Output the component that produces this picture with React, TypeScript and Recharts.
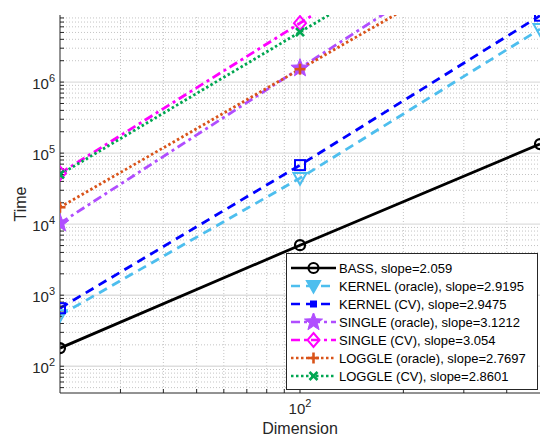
import React from "react";
import { Legend, Line, LineChart, ReferenceLine, XAxis, YAxis } from "recharts";

const dims = [20, 100, 500];
const bass = [180, 5060, 134000];
const kernelOracle = [522, 44500, 5570000];
const kernelCv = [656, 67800, 8600000];
const singleOracle = [10300, 1570000, 240000000];
const singleCv = [52000, 6760000, 920000000];
const loggleOracle = [17300, 1520000, 130000000];
const loggleCv = [50000, 5060000, 500000000];

const xMajor = [100];
const xMinor = [30, 40, 50, 60, 70, 80, 90, 200, 300, 400];
const yMajor = [100, 1000, 10000, 100000, 1000000];
const yMinor = [
  50, 60, 70, 80, 90,
  200, 300, 400, 500, 600, 700, 800, 900,
  2000, 3000, 4000, 5000, 6000, 7000, 8000, 9000,
  20000, 30000, 40000, 50000, 60000, 70000, 80000, 90000,
  200000, 300000, 400000, 500000, 600000, 700000, 800000, 900000,
  2000000, 3000000, 4000000, 5000000, 6000000, 7000000, 8000000,
];
const xDomain = [20, 500];
const yDomain = [42, 8800000];

const series = [
  { key: "bass", name: "BASS, slope=2.059", values: bass, color: "#000000", dash: undefined, shape: "circle" },
  { key: "kernelOracle", name: "KERNEL (oracle), slope=2.9195", values: kernelOracle, color: "#4DBEEE", dash: "9 6", shape: "triangle" },
  { key: "kernelCv", name: "KERNEL (CV), slope=2.9475", values: kernelCv, color: "#0000FF", dash: "9 6", shape: "square" },
  { key: "singleOracle", name: "SINGLE (oracle), slope=3.1212", values: singleOracle, color: "#B04DFF", dash: "9 4 3 4", shape: "star" },
  { key: "singleCv", name: "SINGLE (CV), slope=3.054", values: singleCv, color: "#FF00FF", dash: "9 4 3 4", shape: "diamond" },
  { key: "loggleOracle", name: "LOGGLE (oracle), slope=2.7697", values: loggleOracle, color: "#D95319", dash: "2.5 2.5", shape: "plus" },
  { key: "loggleCv", name: "LOGGLE (CV), slope=2.8601", values: loggleCv, color: "#00A651", dash: "2.5 2.5", shape: "x" },
];

const data = dims.map((d, i) => {
  const row: Record<string, number> = { dim: d };
  series.forEach((s) => (row[s.key] = s.values[i]));
  return row;
});

const FONT = "'Liberation Sans', Arial, Helvetica, sans-serif";
const AXIS = "#262626";

function starPoints(cx: number, cy: number, R: number, r: number) {
  const pts: string[] = [];
  for (let i = 0; i < 10; i++) {
    const a = -Math.PI / 2 + (i * Math.PI) / 5;
    const rad = i % 2 === 0 ? R : r;
    pts.push(`${cx + rad * Math.cos(a)},${cy + rad * Math.sin(a)}`);
  }
  return pts.join(" ");
}

function Marker({ shape, cx, cy, color, legend }: any) {
  if (cx == null || cy == null) return null;
  switch (shape) {
    case "circle":
      return <circle cx={cx} cy={cy} r={5} fill="none" stroke={color} strokeWidth={2.2} />;
    case "triangle":
      return (
        <polygon
          points={`${cx - 6.5},${cy - 5} ${cx + 6.5},${cy - 5} ${cx},${cy + 6.5}`}
          fill={legend ? color : "none"}
          stroke={color}
          strokeWidth={2}
        />
      );
    case "square":
      return legend ? (
        <rect x={cx - 3.5} y={cy - 3.5} width={7} height={7} fill={color} />
      ) : (
        <rect x={cx - 5} y={cy - 5} width={10} height={10} fill="none" stroke={color} strokeWidth={2} />
      );
    case "star":
      return <polygon points={starPoints(cx, cy, 9.5, 4)} fill={color} stroke={color} strokeWidth={1} />;
    case "diamond":
      return (
        <polygon
          points={`${cx},${cy - 7} ${cx + 6},${cy} ${cx},${cy + 7} ${cx - 6},${cy}`}
          fill="none"
          stroke={color}
          strokeWidth={2}
        />
      );
    case "plus":
      return (
        <g stroke={color} strokeWidth={2.6}>
          <line x1={cx - 5.5} y1={cy} x2={cx + 5.5} y2={cy} />
          <line x1={cx} y1={cy - 5.5} x2={cx} y2={cy + 5.5} />
        </g>
      );
    case "x":
      return (
        <g stroke={color} strokeWidth={2.6}>
          <line x1={cx - 4} y1={cy - 4} x2={cx + 4} y2={cy + 4} />
          <line x1={cx - 4} y1={cy + 4} x2={cx + 4} y2={cy - 4} />
        </g>
      );
    default:
      return null;
  }
}

function YTick({ x, y, payload }: any) {
  if (!yMajor.includes(payload.value)) return null;
  const exp = Math.round(Math.log10(payload.value));
  return (
    <text x={x} y={y + 7} textAnchor="end" fill={AXIS} fontSize={15} fontFamily={FONT}>
      10<tspan dy={-7} fontSize={11}>{exp}</tspan>
    </text>
  );
}

function XTick({ x, y, payload }: any) {
  if (!xMajor.includes(payload.value)) return null;
  const exp = Math.round(Math.log10(payload.value));
  return (
    <text x={x} y={y + 10} textAnchor="middle" fill={AXIS} fontSize={15} fontFamily={FONT}>
      10<tspan dy={-7} fontSize={11}>{exp}</tspan>
    </text>
  );
}

function LegendBox() {
  return (
    <div
      style={{
        width: 250,
        border: "1px solid #262626",
        background: "#fff",
        padding: "5px 0 4px 0",
        fontFamily: FONT,
        fontSize: 13,
        color: "#000",
      }}
    >
      {series.map((s) => (
        <div key={s.key} style={{ display: "flex", alignItems: "center", height: 18 }}>
          <svg width={52} height={18} style={{ flex: "none" }}>
            <line x1={4} y1={9} x2={49} y2={9} stroke={s.color} strokeWidth={2.6} strokeDasharray={s.dash} />
            <Marker shape={s.shape} cx={26.5} cy={9} color={s.color} legend />
          </svg>
          <span style={{ whiteSpace: "nowrap" }}>{s.name}</span>
        </div>
      ))}
    </div>
  );
}

export default function App() {
  const allX = [...xMinor, ...xMajor].sort((a, b) => a - b);
  const allY = [...yMinor, ...yMajor].sort((a, b) => a - b);
  return (
    <div style={{ position: "absolute", left: 0, top: 0, width: 542, height: 437, background: "#fff" }}>
      <LineChart width={542} height={437} data={data} margin={{ top: 15, right: 2, bottom: 0, left: 0 }}>
        <XAxis
          dataKey="dim"
          type="number"
          scale="log"
          domain={xDomain}
          allowDataOverflow
          ticks={allX}
          interval={0}
          height={44}
          tickSize={-4}
          tickMargin={15}
          tick={<XTick />}
          stroke={AXIS}
          label={{ value: "Dimension", position: "insideBottom", offset: 3, fill: AXIS, fontSize: 16, fontFamily: FONT }}
        />
        <XAxis
          xAxisId="top"
          dataKey="dim"
          type="number"
          scale="log"
          domain={xDomain}
          allowDataOverflow
          orientation="top"
          ticks={allX}
          interval={0}
          height={0}
          tickSize={-4}
          tick={false}
          stroke={AXIS}
        />
        <YAxis
          type="number"
          scale="log"
          domain={yDomain}
          allowDataOverflow
          ticks={allY}
          interval={0}
          width={60}
          tickSize={-4}
          tickMargin={9}
          tick={<YTick />}
          stroke={AXIS}
          label={{
            content: ({ viewBox }: any) => (
              <text
                x={20}
                y={viewBox.y + viewBox.height / 2}
                transform={`rotate(-90 20 ${viewBox.y + viewBox.height / 2})`}
                textAnchor="middle"
                dominantBaseline="central"
                fill={AXIS}
                fontSize={16}
                fontFamily={FONT}
              >
                Time
              </text>
            ),
          }}
        />
        <YAxis
          yAxisId="right"
          type="number"
          scale="log"
          domain={yDomain}
          allowDataOverflow
          orientation="right"
          ticks={allY}
          interval={0}
          width={0}
          tickSize={-4}
          tick={false}
          stroke={AXIS}
        />
        {xMinor.map((v) => (
          <ReferenceLine key={`xm${v}`} x={v} stroke="#c4c4c4" strokeDasharray="1 2" />
        ))}
        {yMinor.map((v) => (
          <ReferenceLine key={`ym${v}`} y={v} stroke="#c4c4c4" strokeDasharray="1 2" />
        ))}
        {xMajor.map((v) => (
          <ReferenceLine key={`xM${v}`} x={v} stroke="#dedede" strokeWidth={1.4} />
        ))}
        {yMajor.map((v) => (
          <ReferenceLine key={`yM${v}`} y={v} stroke="#dedede" strokeWidth={1.4} />
        ))}
        {series.map((s) => (
          <Line
            key={s.key}
            dataKey={s.key}
            name={s.name}
            stroke={s.color}
            strokeWidth={2.8}
            strokeDasharray={s.dash}
            isAnimationActive={false}
            dot={(p: any) => <Marker key={`${s.key}-${p.index}`} shape={s.shape} cx={p.cx} cy={p.cy} color={s.color} />}
            activeDot={false}
          />
        ))}
        <Legend
          layout="vertical"
          align="center"
          verticalAlign="middle"
          content={() => <LegendBox />}
          wrapperStyle={{ left: 286, top: 253, width: 252, height: "auto" }}
        />
      </LineChart>
    </div>
  );
}
